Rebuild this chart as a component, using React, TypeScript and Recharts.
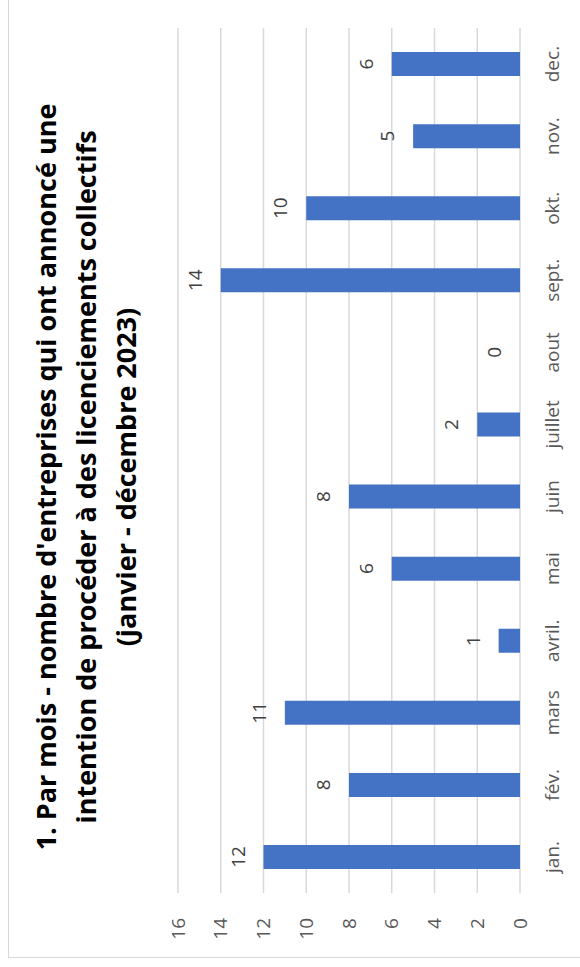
import { Bar, CartesianGrid, ComposedChart, LabelList, Line, XAxis, YAxis } from "recharts";

// chart is drawn upright, then the whole frame is turned a quarter turn to the left
const months = ["jan.", "fév.", "mars", "avril.", "mai", "juin", "juillet", "aout", "sept.", "okt.", "nov.", "dec."];
const counts = [12, 8, 11, 1, 6, 8, 2, 0, 14, 10, 5, 6];
const valueTicks = [0, 2, 4, 6, 8, 10, 12, 14, 16];
const titleLines = [
  "1. Par mois - nombre d'entreprises qui ont annoncé une",
  "intention de procéder à des licenciements collectifs",
  "(janvier - décembre 2023)",
];

const FONT = "'Open Sans', 'DejaVu Sans', sans-serif";
const W = 967;
const H = 580;

export default function App() {
  const data = months.map((month, i) => ({ month, count: counts[i] }));

  return (
    <div
      style={{
        position: "fixed",
        left: 0,
        top: 0,
        width: 580,
        height: 967,
        overflow: "hidden",
        background: "#fff",
        fontFamily: FONT,
      }}
    >
      <div
        style={{
          position: "absolute",
          left: 0,
          top: 0,
          width: W,
          height: H,
          transformOrigin: "0 0",
          transform: `translateY(${W}px) rotate(-90deg)`,
        }}
      >
        <div
          style={{
            position: "absolute",
            left: 9,
            top: 8,
            width: 1100,
            height: 800,
            border: "1.5px solid #d9d9d9",
          }}
        />
        <div
          style={{
            position: "absolute",
            left: 90,
            top: 26,
            width: 800,
            textAlign: "center",
            fontWeight: 700,
            fontSize: 27,
            lineHeight: "40px",
            color: "#000",
            whiteSpace: "nowrap",
          }}
        >
          {titleLines.map((t) => (
            <div key={t}>{t}</div>
          ))}
        </div>
        <div style={{ position: "absolute", left: 0, top: 0 }}>
          <ComposedChart width={W} height={H} data={data} margin={{ top: 178, right: 28, bottom: 30, left: 0 }}>
            <CartesianGrid vertical={false} stroke="#d9d9d9" strokeWidth={1.5} />
            <XAxis
              dataKey="month"
              interval={0}
              tickLine={false}
              axisLine={false}
              tickMargin={20}
              height={30}
              tick={{ fill: "#595959", fontSize: 19, fontFamily: FONT }}
            />
            <YAxis
              type="number"
              domain={[0, 16]}
              ticks={valueTicks}
              interval={0}
              width={74}
              tickLine={false}
              axisLine={false}
              tickMargin={19}
              tick={{ fill: "#595959", fontSize: 19, fontFamily: FONT }}
            />
            <Bar dataKey="count" fill="#4472c4" barSize={24} isAnimationActive={false} />
            {/* invisible line only carries the value labels, so the 0 of "aout" shows too */}
            <Line
              dataKey="count"
              stroke="none"
              dot={false}
              activeDot={false}
              isAnimationActive={false}
            >
              <LabelList
                dataKey="count"
                position="top"
                offset={19}
                fill="#404040"
                fontSize={19}
                fontFamily={FONT}
              />
            </Line>
          </ComposedChart>
        </div>
      </div>
    </div>
  );
}
